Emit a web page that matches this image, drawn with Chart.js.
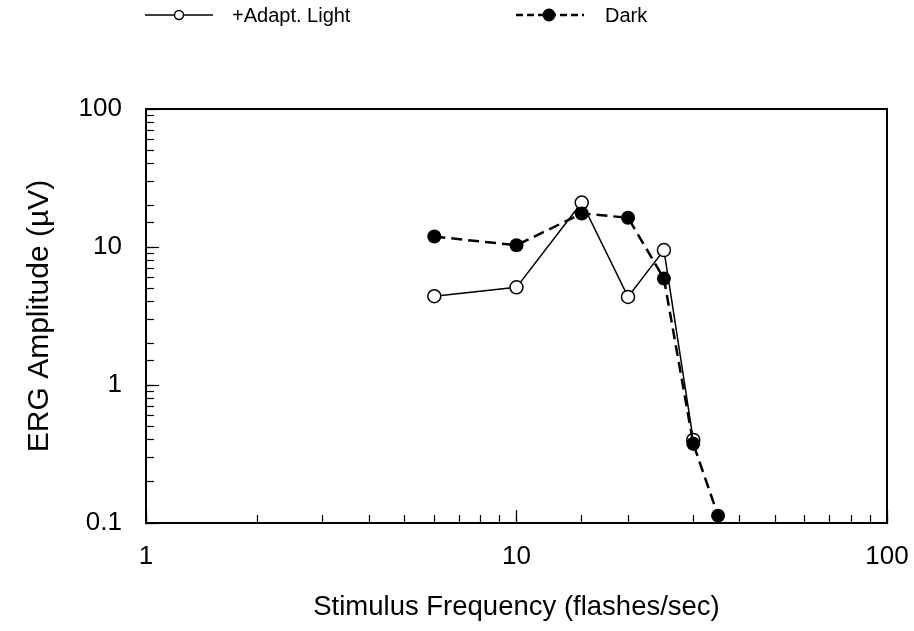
<!DOCTYPE html>
<html>
<head>
<meta charset="utf-8">
<script src="https://cdn.jsdelivr.net/npm/chart.js@4.4.1/dist/chart.umd.min.js"></script>
<style>
  html, body { margin: 0; padding: 0; background: #fff; }
  #wrap { position: relative; width: 914px; height: 631px; }
  #c { position: absolute; left: 0; top: 0; }
  .lg-mark { position: absolute; }
  .lg-text { position: absolute; font-family: "Liberation Sans", Arial, sans-serif; font-size: 20px; line-height: 22px; color: #000; white-space: nowrap; }
</style>
</head>
<body>
<div id="wrap">
  <canvas id="c" width="914" height="631"></canvas>
  <svg class="lg-mark" style="left:145px;top:5px" width="68" height="20">
    <line x1="0" y1="10" x2="68" y2="10" stroke="#000" stroke-width="1.5"/>
    <circle cx="34" cy="10" r="4.5" fill="#fff" stroke="#000" stroke-width="1.5"/>
  </svg>
  <span class="lg-text" id="lg1" style="left:232px;top:4px"></span>
  <svg class="lg-mark" style="left:516px;top:5px" width="68" height="20">
    <line x1="0" y1="10" x2="68" y2="10" stroke="#000" stroke-width="2.5" stroke-dasharray="7,4"/>
    <circle cx="33" cy="10" r="6.5" fill="#000"/>
  </svg>
  <span class="lg-text" id="lg2" style="left:605px;top:4px"></span>
</div>
<script>
// ---- data ----
const seriesNames = ['+Adapt. Light', 'Dark'];
const freqLight = [6, 10, 15, 20, 25, 30];
const ampLight  = [4.4, 5.1, 21, 4.35, 9.5, 0.4];
const freqDark  = [6, 10, 15, 20, 25, 30, 35];
const ampDark   = [11.9, 10.3, 17.5, 16.3, 5.9, 0.375, 0.113];
const xDecades = [1, 10, 100];
const xTickLabels = ['1', '10', '100'];
const yDecades = [0.1, 1, 10, 100];
const yTickLabels = ['0.1', '1', '10', '100'];
const xTitle = 'Stimulus Frequency (flashes/sec)';
const yTitle = 'ERG Amplitude (\u00B5V)';

document.getElementById('lg1').textContent = seriesNames[0];
document.getElementById('lg2').textContent = seriesNames[1];

const FONT = '"Liberation Sans", Arial, sans-serif';

function isDecade(v) {
  const l = Math.log10(v);
  return Math.abs(l - Math.round(l)) < 1e-6;
}
function decadeLabel(v, decades, labels) {
  const i = decades.findIndex(d => Math.abs(Math.log10(v) - Math.log10(d)) < 1e-6);
  return i >= 0 ? labels[i] : '';
}
const toPts = (xs, ys) => xs.map((x, i) => ({ x: x, y: ys[i] }));
const noPad = s => { s.paddingLeft = 0; s.paddingRight = 0; s.paddingTop = 0; s.paddingBottom = 0; };

const majorTickColor = ctx => (ctx.tick && isDecade(ctx.tick.value)) ? '#000' : 'rgba(0,0,0,0)';

new Chart(document.getElementById('c'), {
  type: 'scatter',
  data: {
    datasets: [
      {
        label: seriesNames[0],
        data: toPts(freqLight, ampLight),
        showLine: true,
        borderColor: '#000',
        borderWidth: 1.5,
        pointRadius: 6.5,
        pointBorderWidth: 1.5,
        pointBackgroundColor: '#fff',
        pointBorderColor: '#000',
        order: 1
      },
      {
        label: seriesNames[1],
        data: toPts(freqDark, ampDark),
        showLine: true,
        borderColor: '#000',
        borderWidth: 2.5,
        borderDash: [11, 6],
        pointRadius: 7,
        pointBorderWidth: 0,
        pointBackgroundColor: '#000',
        pointBorderColor: '#000',
        order: 0
      }
    ]
  },
  options: {
    responsive: false,
    animation: false,
    devicePixelRatio: 1,
    layout: { padding: { top: 109, right: 27, left: 0, bottom: 0 } },
    plugins: { legend: { display: false }, tooltip: { enabled: false } },
    scales: {
      x: {
        type: 'logarithmic', position: 'bottom', min: 1, max: 100, weight: 0,
        border: { display: true, color: '#000', width: 2 },
        grid: { display: true, drawOnChartArea: false, drawTicks: true, tickLength: -8, tickColor: '#000', tickWidth: 1.2 },
        ticks: {
          autoSkip: false, maxRotation: 0, minRotation: 0, padding: 26, color: '#000',
          font: { family: FONT, size: 26 },
          callback: v => decadeLabel(v, xDecades, xTickLabels)
        },
        title: { display: true, text: xTitle, color: '#000', font: { family: FONT, size: 27.5 }, padding: { top: 4, bottom: 7 } },
        afterFit: s => { s.height = 108; noPad(s); }
      },
      xMajor: {
        type: 'logarithmic', position: 'bottom', min: 1, max: 100, weight: -1,
        border: { display: false },
        grid: { display: true, drawOnChartArea: false, drawTicks: true, tickLength: -13, tickColor: majorTickColor, tickWidth: 1.2 },
        ticks: { display: false, autoSkip: false },
        afterFit: s => { s.height = 0; noPad(s); }
      },
      y: {
        type: 'logarithmic', position: 'left', min: 0.1, max: 100, weight: 0,
        border: { display: true, color: '#000', width: 2 },
        grid: { display: true, drawOnChartArea: false, drawTicks: true, tickLength: -8, tickColor: '#000', tickWidth: 1.2 },
        ticks: {
          autoSkip: false, padding: 32, color: '#000',
          font: { family: FONT, size: 26 },
          callback: v => decadeLabel(v, yDecades, yTickLabels)
        },
        title: { display: true, text: yTitle, color: '#000', font: { family: FONT, size: 30 }, padding: { top: 22, bottom: 4 } },
        afterFit: s => { s.width = 146; noPad(s); }
      },
      yMajor: {
        type: 'logarithmic', position: 'left', min: 0.1, max: 100, weight: -1,
        border: { display: false },
        grid: { display: true, drawOnChartArea: false, drawTicks: true, tickLength: -13, tickColor: majorTickColor, tickWidth: 1.2 },
        ticks: { display: false, autoSkip: false },
        afterFit: s => { s.width = 0; noPad(s); }
      },
      xTop: {
        type: 'linear', position: 'top', min: 0, max: 1,
        border: { display: true, color: '#000', width: 2 },
        grid: { display: true, drawOnChartArea: false, drawTicks: false },
        ticks: { display: false },
        afterFit: s => { s.height = 0; noPad(s); }
      },
      yRight: {
        type: 'linear', position: 'right', min: 0, max: 1,
        border: { display: true, color: '#000', width: 2 },
        grid: { display: true, drawOnChartArea: false, drawTicks: false },
        ticks: { display: false },
        afterFit: s => { s.width = 0; noPad(s); }
      }
    }
  }
});
</script>
</body>
</html>
